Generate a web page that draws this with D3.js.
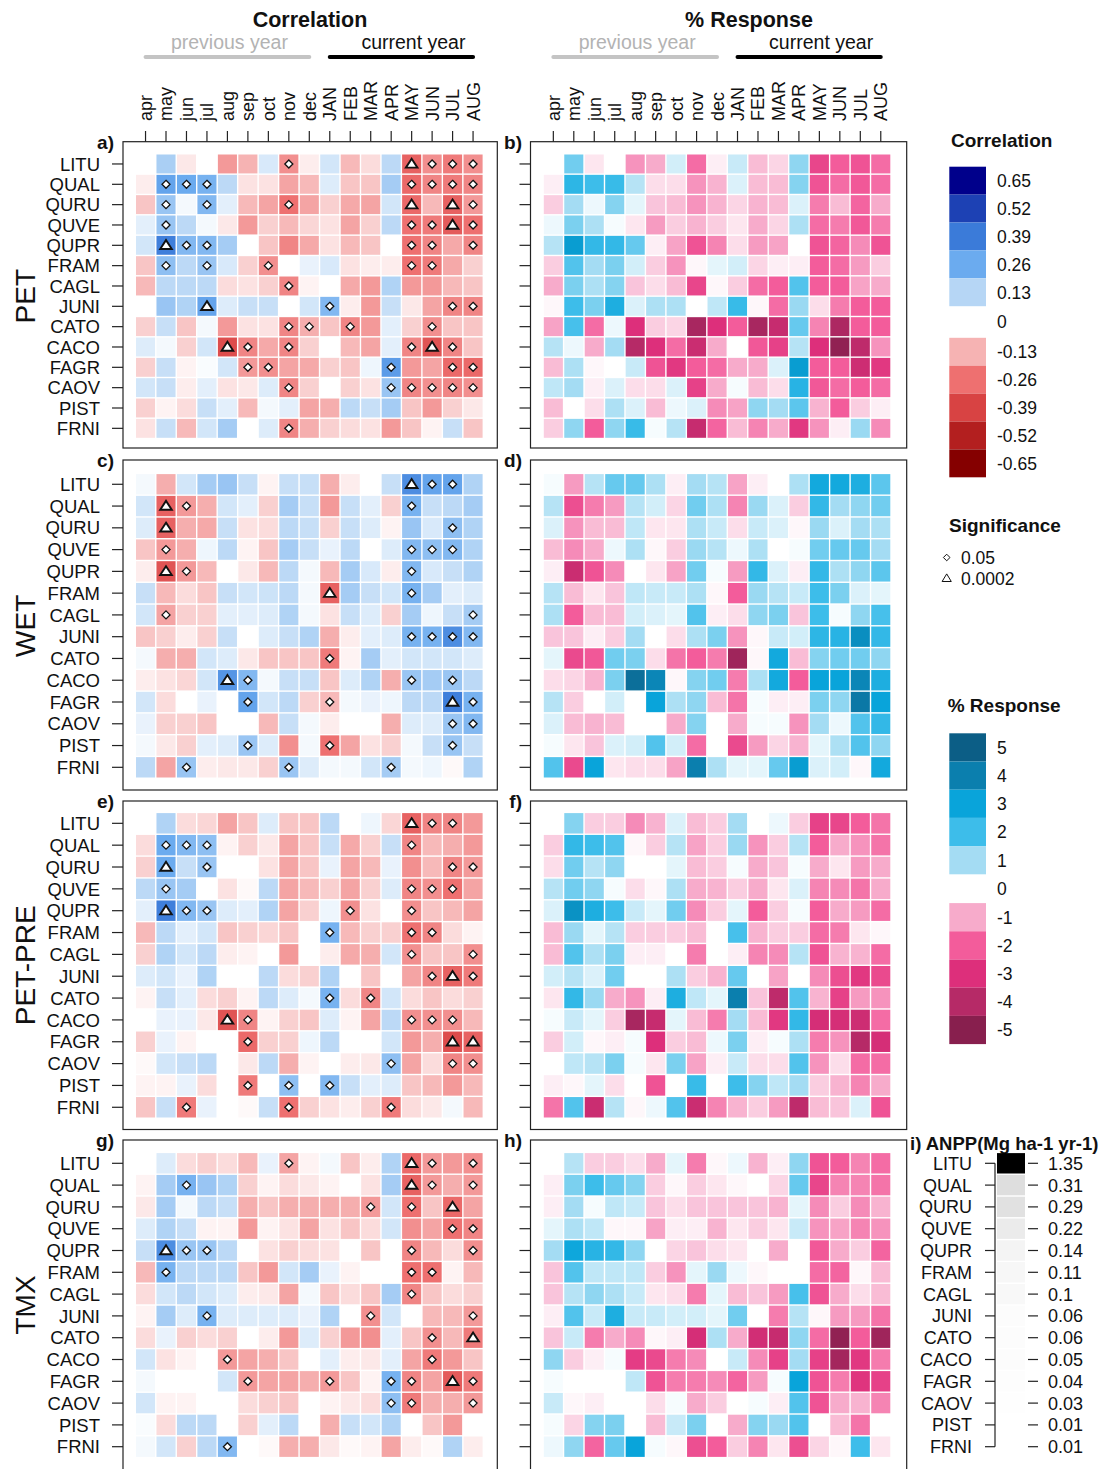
<!DOCTYPE html>
<html>
<head>
<meta charset="utf-8">
<script src="https://cdn.jsdelivr.net/npm/d3@7"></script>
<style>
  body { margin: 0; background: #fff; }
  svg { display: block; }
  text { font-family: "Liberation Sans", Arial, sans-serif; fill: #111; }
</style>
</head>
<body>
<svg id="chart" width="1110" height="1469"></svg>
<script>
// ---- categories ----
const months = ["apr","may","jun","jul","aug","sep","oct","nov","dec","JAN","FEB","MAR","APR","MAY","JUN","JUL","AUG"];
const species = ["LITU","QUAL","QURU","QUVE","QUPR","FRAM","CAGL","JUNI","CATO","CACO","FAGR","CAOV","PIST","FRNI"];
const climateVars = ["PET","WET","PET-PRE","TMX"];

// ANPP per species (Mg ha-1 yr-1)
const anpp = [1.35,0.31,0.29,0.22,0.14,0.11,0.1,0.06,0.06,0.05,0.04,0.03,0.01,0.01];

// legend tick labels
const corrTicks = [0.65,0.52,0.39,0.26,0.13,0,-0.13,-0.26,-0.39,-0.52,-0.65];
const respTicks = [5,4,3,2,1,0,-1,-2,-3,-4,-5];

// ---- correlation coefficients (r x 100), rows = species, cols = months ----
const corrPET = [
 [0,15,-4,0,-18,-13,7,-20,-3,8,-12,-6,12,-30,-20,-24,-20],
 [-3,28,26,24,12,-5,-5,-16,-12,6,-10,-10,16,-28,-22,-24,-22],
 [-10,18,2,22,5,-12,-16,-26,-16,-8,-15,-16,8,-28,-12,-30,-18],
 [5,18,12,2,-4,-18,-8,-12,-7,-5,-16,-8,12,-26,-24,-32,-26],
 [8,38,22,22,16,0,-10,-22,-15,-5,-12,-10,0,-26,-22,-15,-22],
 [-10,20,12,18,7,-8,-20,0,4,7,-5,-3,-3,-26,-24,-15,-8],
 [-12,12,12,12,-6,-5,-8,-22,-2,0,-15,-18,14,-18,-18,-12,-10],
 [0,18,14,28,6,10,10,0,8,22,-3,-18,10,-4,-16,-22,-22],
 [-8,10,-10,2,-18,-5,-5,-22,-14,-10,-22,-18,5,-8,-20,-10,-10],
 [6,2,-8,8,-36,-22,-15,-22,-8,0,-12,-16,5,-22,-34,-22,-10],
 [-8,10,-2,1,8,-18,-20,-16,-15,-8,-10,3,30,-18,-16,-28,-28],
 [8,10,-3,5,-5,-4,6,-22,-8,0,-8,-5,18,-22,-20,-22,-20],
 [-8,-2,-6,10,5,-12,2,5,-16,-14,12,10,16,-10,-18,-8,-4],
 [-5,10,-12,8,16,0,6,-22,-14,-8,-6,-5,-18,-10,-2,10,-10]
];
const corrWET = [
 [2,-14,8,16,18,10,-2,10,10,-14,-3,0,10,34,28,28,14],
 [8,-30,-18,-14,8,5,-8,16,10,-18,10,5,-8,24,10,12,16],
 [6,-30,-14,-15,10,-5,-6,12,10,-8,10,6,-2,18,7,20,14],
 [-10,-18,-14,3,12,-2,-10,16,10,4,12,0,6,22,20,22,14],
 [-3,-34,-18,-12,0,-4,-12,12,2,-12,16,7,-3,22,7,10,14],
 [10,-12,-6,-10,10,8,9,12,2,-30,16,10,8,24,16,5,6],
 [8,-16,-8,-8,5,5,6,14,2,-5,10,6,-8,16,3,10,16],
 [-10,-8,-3,-8,10,0,6,10,14,-14,-3,5,6,24,24,34,22],
 [2,-14,-14,8,6,-4,-10,-10,-10,-24,-2,16,5,8,8,8,6],
 [-3,-5,-7,8,32,22,2,10,10,-10,6,14,-14,18,16,18,12],
 [8,-6,0,4,0,28,8,12,-8,-12,2,4,3,12,12,38,24],
 [4,-8,-8,-10,0,0,-12,10,2,-3,0,0,-14,6,6,18,22],
 [2,-4,-8,5,6,18,6,-20,2,-26,-16,-5,-8,2,10,18,10],
 [12,-16,18,-3,-4,-4,-8,18,6,2,2,8,16,2,3,-1,14]
];
const corrPETPRE = [
 [0,14,-6,-7,-16,-10,6,-10,-10,12,0,3,-7,-30,-22,-22,-18],
 [-6,26,22,20,-2,-8,-4,-16,-10,10,-15,-8,10,-22,-12,-14,-18],
 [-8,26,10,18,0,0,-5,-16,-10,4,-16,-12,4,-20,-12,-22,-18],
 [12,18,16,0,-5,-1,12,-16,-12,-8,-16,-8,6,-22,-20,-26,-16],
 [5,38,22,18,6,5,14,-16,-8,3,-20,-5,0,-20,-10,-12,-16],
 [-12,12,5,8,-10,-8,-7,-10,0,24,-12,-8,-8,-26,-22,-6,-2],
 [-8,14,8,12,-3,-2,0,-18,0,-3,-15,-14,8,-20,-10,-10,-20],
 [6,8,4,14,0,0,12,-6,-8,14,0,-10,0,-16,-22,-30,-24],
 [-2,10,5,-6,-8,-2,12,6,2,24,-6,-22,8,-6,-10,-6,-8],
 [0,4,4,-4,-34,-22,-2,-8,-10,6,-2,-16,12,-20,-20,-20,-12],
 [-8,4,-2,0,0,-28,-8,-8,3,12,0,0,8,-18,-14,-36,-30],
 [-1,8,10,12,0,-4,12,-14,-2,0,-3,-4,20,-16,-6,-22,-20],
 [-2,-2,4,-6,0,-24,0,20,0,22,10,5,6,-10,-12,-18,-12],
 [-10,10,-24,4,0,-1,10,-26,-8,-5,-3,-8,-24,-6,-4,2,-12]
];
const corrTMX = [
 [0,6,-6,-8,-6,-12,4,-16,-2,2,-10,-3,14,-28,-18,-18,-20],
 [-2,16,24,18,14,-8,-2,-6,-4,-2,0,-5,16,-30,-18,-14,-18],
 [-4,16,2,12,10,-14,-10,-14,-14,-14,-14,-18,8,-26,-10,-28,-16],
 [6,14,10,-2,-2,-18,-2,-5,-16,-5,-10,-6,8,-20,-16,-26,-22],
 [10,34,18,18,12,0,-5,-8,-6,-5,0,-10,0,-22,-12,-6,-20],
 [-12,24,12,12,12,-10,-18,8,16,4,-2,0,0,-26,-26,-2,-12],
 [-6,8,12,8,6,-3,-4,-16,2,-10,-6,-10,16,-22,-10,-6,-8],
 [-2,16,6,24,6,6,6,6,4,14,0,-20,8,0,-12,-12,-18],
 [-6,4,-8,-6,-8,0,-3,-18,6,-8,-18,-20,5,-10,-20,-12,-24],
 [8,-5,-2,0,-18,-16,-14,-10,0,5,-3,-4,5,-16,-24,-18,-10],
 [2,0,0,0,8,-18,-16,-16,-14,-18,-10,-2,24,-22,-16,-32,-24],
 [8,-2,-2,0,0,-6,-8,-10,0,-2,-4,-6,20,-24,-14,-14,-18],
 [1,-6,12,12,0,-8,5,12,0,-14,10,8,14,0,-10,-18,0],
 [2,8,-8,12,22,0,-1,-14,-14,-4,-1,-2,-16,-3,-1,14,-3]
];

// ---- % response, rows = species, cols = months ----
const respPET = [
 [0,1.5,-.3,0,-1.3,-1,.5,-1.8,-.2,.6,-.8,-.5,1.2,-2.5,-2,-2.2,-1.8],
 [-.2,2.3,2,2.1,.8,-.4,-.4,-1.3,-.9,.4,-.8,-.8,1.3,-2.2,-1.8,-2.1,-1.8],
 [-.6,1,.2,1.3,.3,-.7,-.8,-1.3,-.9,-.5,-.9,-.8,.4,-1.6,-.8,-1.9,-1],
 [.2,1.4,.9,.1,-.3,-1.2,-.6,-.9,-.6,-.3,-1,-.5,.9,-1.8,-1.6,-2.1,-1.6],
 [.8,3.2,2.2,2.2,1.6,-.2,-1.1,-2.2,-1.5,-.4,-1.2,-1.1,0,-2.2,-1.9,-1.4,-2.2],
 [-.6,1.8,1,1.4,.5,-.6,-1.3,-.1,.3,.5,-.5,-.2,-.2,-2,-1.8,-1.2,-.6],
 [-1,1.4,.9,1.3,-.7,-.4,-.8,-2.5,-.1,-.6,-1.8,-2,1.8,-2,-2,-1.1,-1],
 [-.1,2,1.4,2.6,.4,.9,.9,0,.7,2.1,-.1,-1.8,1.1,-.4,-1.6,-2,-2],
 [-1.1,1.9,-1.8,.2,-3,-.6,-.5,-4.3,-3,-2,-4.3,-3.6,1.6,-1.5,-4.2,-2,-2],
 [.8,.2,-1,1,-4,-3,-1.8,-3.5,-1,0,-2.1,-2.6,.8,-3,-4.8,-3.8,-1.3],
 [-.8,.9,-.1,0,.6,-2.2,-2.8,-2,-1.8,-1,-1,.4,3.2,-2,-2,-3.4,-2.8],
 [.7,1,-.2,.4,-.4,-.4,.4,-2.6,-1,.1,-.8,-.4,2.4,-2.1,-1.8,-2,-1.8],
 [-.8,0,-.4,.9,.4,-.8,.2,.4,-1.4,-1.1,1.2,1,1.7,-.9,-2,-.6,-.2],
 [-.6,1.2,-2,1.2,2.1,.1,.8,-3.6,-1.9,-.8,-1.5,-1,-2.8,-1.3,-.2,1.1,-1.4]
];
const respWET = [
 [.1,-1.2,.8,1.6,1.6,.9,-.2,1,.8,-1.1,-.2,0,.9,2.8,2.8,2.6,1.7],
 [.8,-2.3,-1.6,-1.2,.8,.5,-.5,1.5,.9,-1.5,1.1,.4,-.6,2.2,1,1.2,1.5],
 [.4,-1.3,-.8,-.8,.7,-.3,-.3,.9,.6,-.4,.6,.4,-.1,1.1,.4,1,.9],
 [-.8,-1.4,-1,.2,.9,-.1,-.6,1.1,.8,.2,.9,0,.1,1.5,1.6,1.6,1],
 [-.2,-3.5,-2.2,-1.4,0,-.3,-1.1,1.5,.1,-1.2,2.2,.4,-.2,2.2,.9,1.2,1.7],
 [.8,-.8,-.3,-.7,.7,.6,.6,.9,-.1,-2,1.1,.8,.6,2,1.4,.4,.3],
 [.9,-2,-.8,-.8,.5,.4,.3,1.8,-.2,-.4,1.2,1.4,-.7,2,.1,1.2,1.9],
 [-.7,-.7,-.2,-.6,1,0,-.4,.9,1.4,-1.3,-.1,.6,.5,2.3,2.4,3.6,2.2],
 [.3,-2.4,-2.1,1.5,1.4,-.4,-1.7,-2,-1.6,-4.5,-.1,2.8,-.8,1.3,1.5,1.5,1.2],
 [-.4,-.5,-.9,1.4,4.5,3.8,-.1,1.3,1.5,-1.6,.9,2.8,-2,3,3,3.8,2.6],
 [.8,-.6,0,.5,0,3,.9,1.2,-.8,-1.7,.1,-.2,-.2,1.4,1.2,4.2,3],
 [.4,-.8,-.9,-.8,0,0,-1,1.3,0,-1,.1,.1,-1.3,1,.2,1.8,2.2],
 [.1,-.3,-.7,.4,.5,1.8,.5,-1.8,0,-2.4,-1.2,-.5,-.9,.3,.9,1.8,1.2],
 [1.8,-2.4,3,-.3,-.4,-.4,-1.1,4,.9,.3,.3,1.6,3.2,.4,.5,-.1,2.8]
];
const respPETPRE = [
 [0,1.3,-.6,-.6,-1.4,-.9,.4,-.8,-.6,1,0,.2,-.6,-2.6,-2.5,-2,-1.7],
 [-.6,2.2,2,1.8,-.1,-.6,.8,-1.1,-.6,1.1,-1.3,-.6,.8,-2,-1,-1.3,-1.7],
 [-.4,1.5,.8,1.2,0,0,.3,-.8,-.6,.1,-1,-.7,.1,-1,-.3,-1.2,-1],
 [.8,1.5,1.2,.1,-.4,-.1,.9,-1,-.9,-.6,-1,-.3,.4,-1.5,-1.4,-1.7,-1],
 [.4,3.5,2.6,2,.6,.3,1.5,-1.4,-.6,.3,-2,-.6,.1,-2,-1,-1.2,-1.8],
 [-.8,1.1,.3,.8,-.6,-.6,-.6,-.8,0,1.9,-.9,-.6,-.6,-1.8,-1.6,-.3,-.1],
 [-.8,1.8,.9,1.4,-.2,-.2,0,-1.6,0,-.2,-1.5,-1.4,.8,-2.2,-.9,-.9,-1.8],
 [.5,.8,.4,1.5,0,0,.9,-.6,-.9,1.6,0,-1.1,0,-1.4,-2.3,-2.8,-2.4],
 [-.3,2.2,1.1,-1,-1.3,-.2,2.6,.7,.3,4,-.7,-3.8,1.8,-.9,-2.6,-1.2,-1.3],
 [.1,.6,.3,-.6,-4.3,-3.6,.3,-.8,-1.6,1,-.8,-2.8,2.2,-3.2,-3.2,-3.4,-1.8],
 [-.6,.5,-.1,-.2,.1,-3,-.6,-.8,.2,1.4,-.2,.1,.9,-1.6,-1.3,-4,-3.2],
 [0,.7,.8,1.4,.1,-.3,1.4,-1.1,-.2,.6,-.4,-.4,1.8,-1.3,-.4,-1.8,-1.8],
 [-.2,-.1,.3,-.4,0,-2.2,0,2.1,0,2,1.3,.7,1,-.6,-.9,-1.5,-1],
 [-1.7,1.8,-3.5,.8,-.1,.2,1.8,-3.5,-1.5,-.9,-.6,-1.2,-3.8,-.8,-.7,.4,-2.2]
];
const respTMX = [
 [0,.8,-.6,-.6,-.4,-1,.3,-1.6,-.1,.2,-.9,-.2,1.2,-2.2,-2,-1.5,-1.8],
 [-.2,1.4,2,1.6,1.3,-.6,-.1,-.6,-.3,-.1,0,-.5,1.6,-2.5,-1.5,-1.5,-1.7],
 [-.2,1,.1,.7,.6,-.7,-.4,-.7,-.7,-.7,-.7,-.9,.3,-1.4,-.6,-1.4,-.9],
 [.3,.9,.7,-.1,-.1,-1.1,-.2,-.2,-.9,-.3,-.6,-.3,.6,-1.3,-1.1,-1.5,-1.3],
 [1,2.9,2.4,2.2,1.2,0,-.5,-.7,-.4,-.3,0,-1,0,-2.1,-1,-.6,-1.9],
 [-.7,1.8,.7,.7,.7,-.6,-1.3,.3,1.1,.2,-.1,0,0,-1.8,-1.9,-.1,-.8],
 [-.7,.8,1.2,.9,.6,-.3,-.4,-1.6,.3,-.8,-.7,-1.2,1.9,-2.2,-1,-.4,-.8],
 [-.2,1.8,.6,2.6,.6,.6,.5,.5,.3,1.5,0,-1.6,.8,-.1,-1.2,-1.2,-1.7],
 [-.7,.6,-1.6,-1,-1.4,-.1,-.2,-3.2,.9,-1,-3.3,-3.6,1.2,-1.8,-4.8,-2,-4.5],
 [1.2,-.6,-.2,.1,-2.7,-2.4,-1.6,-1.4,0,.6,-1.4,-2.6,1,-2.6,-4.4,-2.8,-1.6],
 [.1,0,0,0,.7,-2.2,-1.6,-1.6,-1.4,-1.9,-1.2,.1,3,-2.2,-1.6,-2.9,-2.6],
 [.6,-.1,-.2,0,0,-.4,.1,-1,-.6,0,.1,-.2,1.8,-2.2,-1,-.9,-1.5],
 [.1,-.5,1.3,1.4,0,-.8,.6,1.4,0,-1,1.3,1.1,1.8,0,-.8,-1.7,0],
 [.2,1.2,-1.9,1.6,3,.1,-.1,-2.3,-2,-.6,-1.5,-.3,-2.3,-.5,-.1,2,-.3]
];

// ---- significance: "o" = p<0.05, "t" = p<0.0002, "." = n.s. ----
const sigPET = [
 ".......o.....tooo", ".ooo.........oooo", ".o.o...o.....t.to", ".o...........ooto",
 ".too.........oo.o", ".o.o..o......oo..", ".......o.........", "...t.....o.....oo",
 ".......oo.o...o..", "....to.o.....oto.", ".....oo.....o..oo", ".......o....ooooo",
 ".................", ".......o........."
];
const sigWET = [
 ".............too.", ".to..........o...", ".t.............o.", ".o...........ooo.",
 ".to..........o...", ".........t...o...", ".o..............o", ".............oooo",
 ".........o.......", "....to.......o.o.", ".....o...o.....to", "...............oo",
 ".....o...o.....o.", "..o....o....o...."
];
const sigPETPRE = [
 ".............too.", ".ooo.........o...", ".t.o...........oo", ".o...........ooo.",
 ".too......o..o...", ".........o...oo..", ".............o..o", "..............oto",
 ".........o.o.....", "....to.......ooo.", ".....o.........tt", "............o..oo",
 ".....o.o.o.......", "..o....o....o...."
];
const sigTMX = [
 ".......o.....to.o", "..o..........to.o", "...........o.o.t.", "...............oo",
 ".too.........o..o", ".o...........oo..", ".............o...", "...o.......o....o",
 "..............o.t", "....o.........o..", ".....o...o..oo.to", "............oo..o",
 ".................", "....o............"
];

// ---- colour scales ----
const corrColor = d3.scaleLinear()
  .domain(corrTicks.slice().reverse())
  .range(["#850000","#b31f1f","#d84343","#ee7070","#f6b3b3","#ffffff","#b6d6f5","#6babef","#3b7bd9","#1d41b4","#00008b"])
  .clamp(true);
const respColor = d3.scaleLinear()
  .domain(respTicks.slice().reverse())
  .range(["#881f4e","#b62a67","#dd2f7b","#f35c9b","#f7abcb","#ffffff","#a4dcf3","#3dbdea","#09a4da","#0b7fae","#0c5e86"])
  .clamp(true);
const anppColor = d3.scalePow().exponent(1.4).domain([0, d3.max(anpp)]).range(["#ffffff","#000000"]);

const svg = d3.select("#chart");

// ---- layout ----
const xCorr = d3.scaleBand().domain(months).range([135.3, 483.3]);
const xResp = d3.scaleBand().domain(months).range([543.1, 891]);
const boxCorr = [123, 497.3];
const boxResp = [530.5, 906.7];

const rows = [
  { name: climateVars[0], corr: corrPET,    resp: respPET,    sig: sigPET,    band: [153.8, 438.5],  box: [141.7, 448],  letters: ["a)","b)"] },
  { name: climateVars[1], corr: corrWET,    resp: respWET,    sig: sigWET,    band: [473.4, 778.2],  box: [460, 790],    letters: ["c)","d)"] },
  { name: climateVars[2], corr: corrPETPRE, resp: respPETPRE, sig: sigPETPRE, band: [812.4, 1118.2], box: [801, 1129.5], letters: ["e)","f)"] },
  { name: climateVars[3], corr: corrTMX,    resp: respTMX,    sig: sigTMX,    band: [1152.4, 1457.6],box: [1140, 1476],  letters: ["g)","h)"] }
];

const diamondPath = "M0,-4L4,0L0,4L-4,0Z";
const trianglePath = "M0,-5.2L5.8,3.7L-5.8,3.7Z";

function cellsOf(matrix, scale) {
  const out = [];
  matrix.forEach((r, i) => r.forEach((v, j) => out.push({ sp: species[i], m: months[j], v: v * scale })));
  return out;
}

function drawHeat(g, cells, x, y, color) {
  g.selectAll("rect.cell").data(cells).join("rect")
    .attr("class", "cell")
    .attr("x", d => x(d.m) + 0.7)
    .attr("y", d => y(d.sp) + 0.7)
    .attr("width", x.bandwidth() - 1.4)
    .attr("height", y.bandwidth() - 1.4)
    .attr("fill", d => color(d.v));
}

function drawBox(g, bx, by, y) {
  g.append("rect")
    .attr("x", bx[0]).attr("y", by[0])
    .attr("width", bx[1] - bx[0]).attr("height", by[1] - by[0])
    .attr("fill", "none").attr("stroke", "#222").attr("stroke-width", 1.2);
  g.selectAll("line.ytick").data(species).join("line")
    .attr("class", "ytick")
    .attr("x1", bx[0] - 11).attr("x2", bx[0])
    .attr("y1", d => y(d) + y.bandwidth() / 2).attr("y2", d => y(d) + y.bandwidth() / 2)
    .attr("stroke", "#222").attr("stroke-width", 1.2);
}

rows.forEach(row => {
  const y = d3.scaleBand().domain(species).range(row.band);
  const gL = svg.append("g");
  const gR = svg.append("g");

  // correlation heatmap
  drawHeat(gL, cellsOf(row.corr, 0.01), xCorr, y, corrColor);

  // significance markers
  const sigCells = [];
  row.sig.forEach((s, i) => s.split("").forEach((c, j) => {
    if (c !== ".") sigCells.push({ sp: species[i], m: months[j], type: c });
  }));
  gL.selectAll("path.sig").data(sigCells).join("path")
    .attr("class", "sig")
    .attr("transform", d => `translate(${xCorr(d.m) + xCorr.bandwidth() / 2},${y(d.sp) + y.bandwidth() / 2})`)
    .attr("d", d => d.type === "t" ? trianglePath : diamondPath)
    .attr("fill", "#fff").attr("stroke", "#111")
    .attr("stroke-width", d => d.type === "t" ? 1.9 : 1.3)
    .attr("stroke-linejoin", "miter");

  drawBox(gL, boxCorr, row.box, y);

  // species labels
  gL.selectAll("text.sp").data(species).join("text")
    .attr("class", "sp")
    .attr("x", 100).attr("y", d => y(d) + y.bandwidth() / 2)
    .attr("dy", "0.36em").attr("text-anchor", "end")
    .attr("font-size", 18.5).text(d => d);

  // response heatmap
  drawHeat(gR, cellsOf(row.resp, 1), xResp, y, respColor);
  drawBox(gR, boxResp, row.box, y);

  // panel letters
  gL.append("text").attr("x", 114).attr("y", row.box[0] + 7).attr("text-anchor", "end")
    .attr("font-size", 19).attr("font-weight", "bold").text(row.letters[0]);
  gR.append("text").attr("x", 522).attr("y", row.box[0] + 7).attr("text-anchor", "end")
    .attr("font-size", 19).attr("font-weight", "bold").text(row.letters[1]);

  // climate variable name
  const cy = (row.band[0] + row.band[1]) / 2;
  svg.append("text")
    .attr("transform", `translate(25,${cy}) rotate(-90)`)
    .attr("dy", "0.36em").attr("text-anchor", "middle")
    .attr("font-size", 28).text(row.name);
});

// ---- column headers ----
function header(x, title, titleX) {
  const g = svg.append("g");
  const cx = m => x(m) + x.bandwidth() / 2;
  g.append("text").attr("x", titleX).attr("y", 19).attr("dy", "0.36em")
    .attr("text-anchor", "middle").attr("font-size", 21.5).attr("font-weight", "bold").text(title);
  g.append("text").attr("x", (cx("apr") + cx("dec")) / 2 + 2).attr("y", 42).attr("dy", "0.36em")
    .attr("text-anchor", "middle").attr("font-size", 19.5).style("fill", "#b3b3b3").text("previous year");
  g.append("text").attr("x", (cx("JAN") + cx("AUG")) / 2 + 12).attr("y", 42).attr("dy", "0.36em")
    .attr("text-anchor", "middle").attr("font-size", 19.5).text("current year");
  g.append("line").attr("x1", cx("apr")).attr("x2", cx("dec")).attr("y1", 57).attr("y2", 57)
    .attr("stroke", "#c4c4c4").attr("stroke-width", 4).attr("stroke-linecap", "round");
  g.append("line").attr("x1", cx("JAN")).attr("x2", cx("AUG")).attr("y1", 57).attr("y2", 57)
    .attr("stroke", "#000").attr("stroke-width", 4).attr("stroke-linecap", "round");
  g.selectAll("text.mon").data(months).join("text")
    .attr("class", "mon")
    .attr("transform", d => `translate(${cx(d)},121) rotate(-90)`)
    .attr("dy", "0.36em").attr("font-size", 18).text(d => d);
  g.selectAll("line.xtick").data(months).join("line")
    .attr("class", "xtick")
    .attr("x1", cx).attr("x2", cx).attr("y1", 131).attr("y2", 141.7)
    .attr("stroke", "#222").attr("stroke-width", 1.2);
}
header(xCorr, "Correlation", 310);
header(xResp, "% Response", 749);

// ---- colour legends ----
function legend(title, ticks, color, titleY, top, boxH, zeroGap, fmt, titleX) {
  const g = svg.append("g");
  g.append("text").attr("x", titleX).attr("y", titleY).attr("dy", "0.36em")
    .attr("font-size", 19).attr("font-weight", "bold").text(title);
  let yPos = top;
  ticks.forEach(t => {
    if (t === 0) {
      g.append("text").attr("x", 997).attr("y", yPos + zeroGap / 2).attr("dy", "0.36em")
        .attr("font-size", 17.5).text(fmt(t));
      yPos += zeroGap;
      return;
    }
    g.append("rect").attr("x", 949.3).attr("y", yPos).attr("width", 36.7).attr("height", boxH)
      .attr("fill", color(t));
    g.append("text").attr("x", 997).attr("y", yPos + boxH / 2).attr("dy", "0.36em")
      .attr("font-size", 17.5).text(fmt(t));
    yPos += boxH;
  });
}
legend("Correlation", corrTicks, corrColor, 140, 166.7, 27.9, 31.6, d => String(d), 951);
legend("% Response", respTicks, respColor, 705, 733.3, 28.2, 28.8, d => String(d), 947.7);

// significance key
const sg = svg.append("g");
sg.append("text").attr("x", 949).attr("y", 525).attr("dy", "0.36em")
  .attr("font-size", 19).attr("font-weight", "bold").text("Significance");
sg.append("path").attr("transform", "translate(946.7,557.5)").attr("d", "M0,-3.3L3.3,0L0,3.3L-3.3,0Z")
  .attr("fill", "none").attr("stroke", "#111").attr("stroke-width", 1);
sg.append("text").attr("x", 961).attr("y", 557.5).attr("dy", "0.36em").attr("font-size", 17.5).text("0.05");
sg.append("path").attr("transform", "translate(946.7,578.5)").attr("d", "M0,-4.6L4.6,3L-4.6,3Z")
  .attr("fill", "none").attr("stroke", "#111").attr("stroke-width", 1);
sg.append("text").attr("x", 961).attr("y", 578.5).attr("dy", "0.36em").attr("font-size", 17.5).text("0.0002");

// ---- i) ANPP column ----
const yA = d3.scaleBand().domain(species).range(rows[3].band);
const ga = svg.append("g");
ga.append("text").attr("x", 910).attr("y", 1143).attr("dy", "0.36em")
  .attr("font-size", 18.5).attr("font-weight", "bold").text("i) ANPP(Mg ha-1 yr-1)");
ga.selectAll("rect.anpp").data(species).join("rect")
  .attr("class", "anpp")
  .attr("x", 997).attr("width", 28)
  .attr("y", d => yA(d) + 0.7).attr("height", yA.bandwidth() - 1.4)
  .attr("fill", (d, i) => anppColor(anpp[i]));
const yMid = d => yA(d) + yA.bandwidth() / 2;
ga.append("line").attr("x1", 995).attr("x2", 995)
  .attr("y1", yMid(species[0])).attr("y2", yMid(species[species.length - 1]))
  .attr("stroke", "#222").attr("stroke-width", 1.2);
ga.selectAll("line.lt").data(species).join("line").attr("class", "lt")
  .attr("x1", 985).attr("x2", 995).attr("y1", yMid).attr("y2", yMid)
  .attr("stroke", "#222").attr("stroke-width", 1.2);
ga.selectAll("line.rt").data(species).join("line").attr("class", "rt")
  .attr("x1", 1028).attr("x2", 1038).attr("y1", yMid).attr("y2", yMid)
  .attr("stroke", "#222").attr("stroke-width", 1.2);
ga.selectAll("text.sl").data(species).join("text").attr("class", "sl")
  .attr("x", 972).attr("y", yMid).attr("dy", "0.36em").attr("text-anchor", "end")
  .attr("font-size", 18).text(d => d);
ga.selectAll("text.vl").data(anpp).join("text").attr("class", "vl")
  .attr("x", 1048).attr("y", (d, i) => yMid(species[i])).attr("dy", "0.36em")
  .attr("font-size", 18).text(d => String(d));
</script>
</body>
</html>
